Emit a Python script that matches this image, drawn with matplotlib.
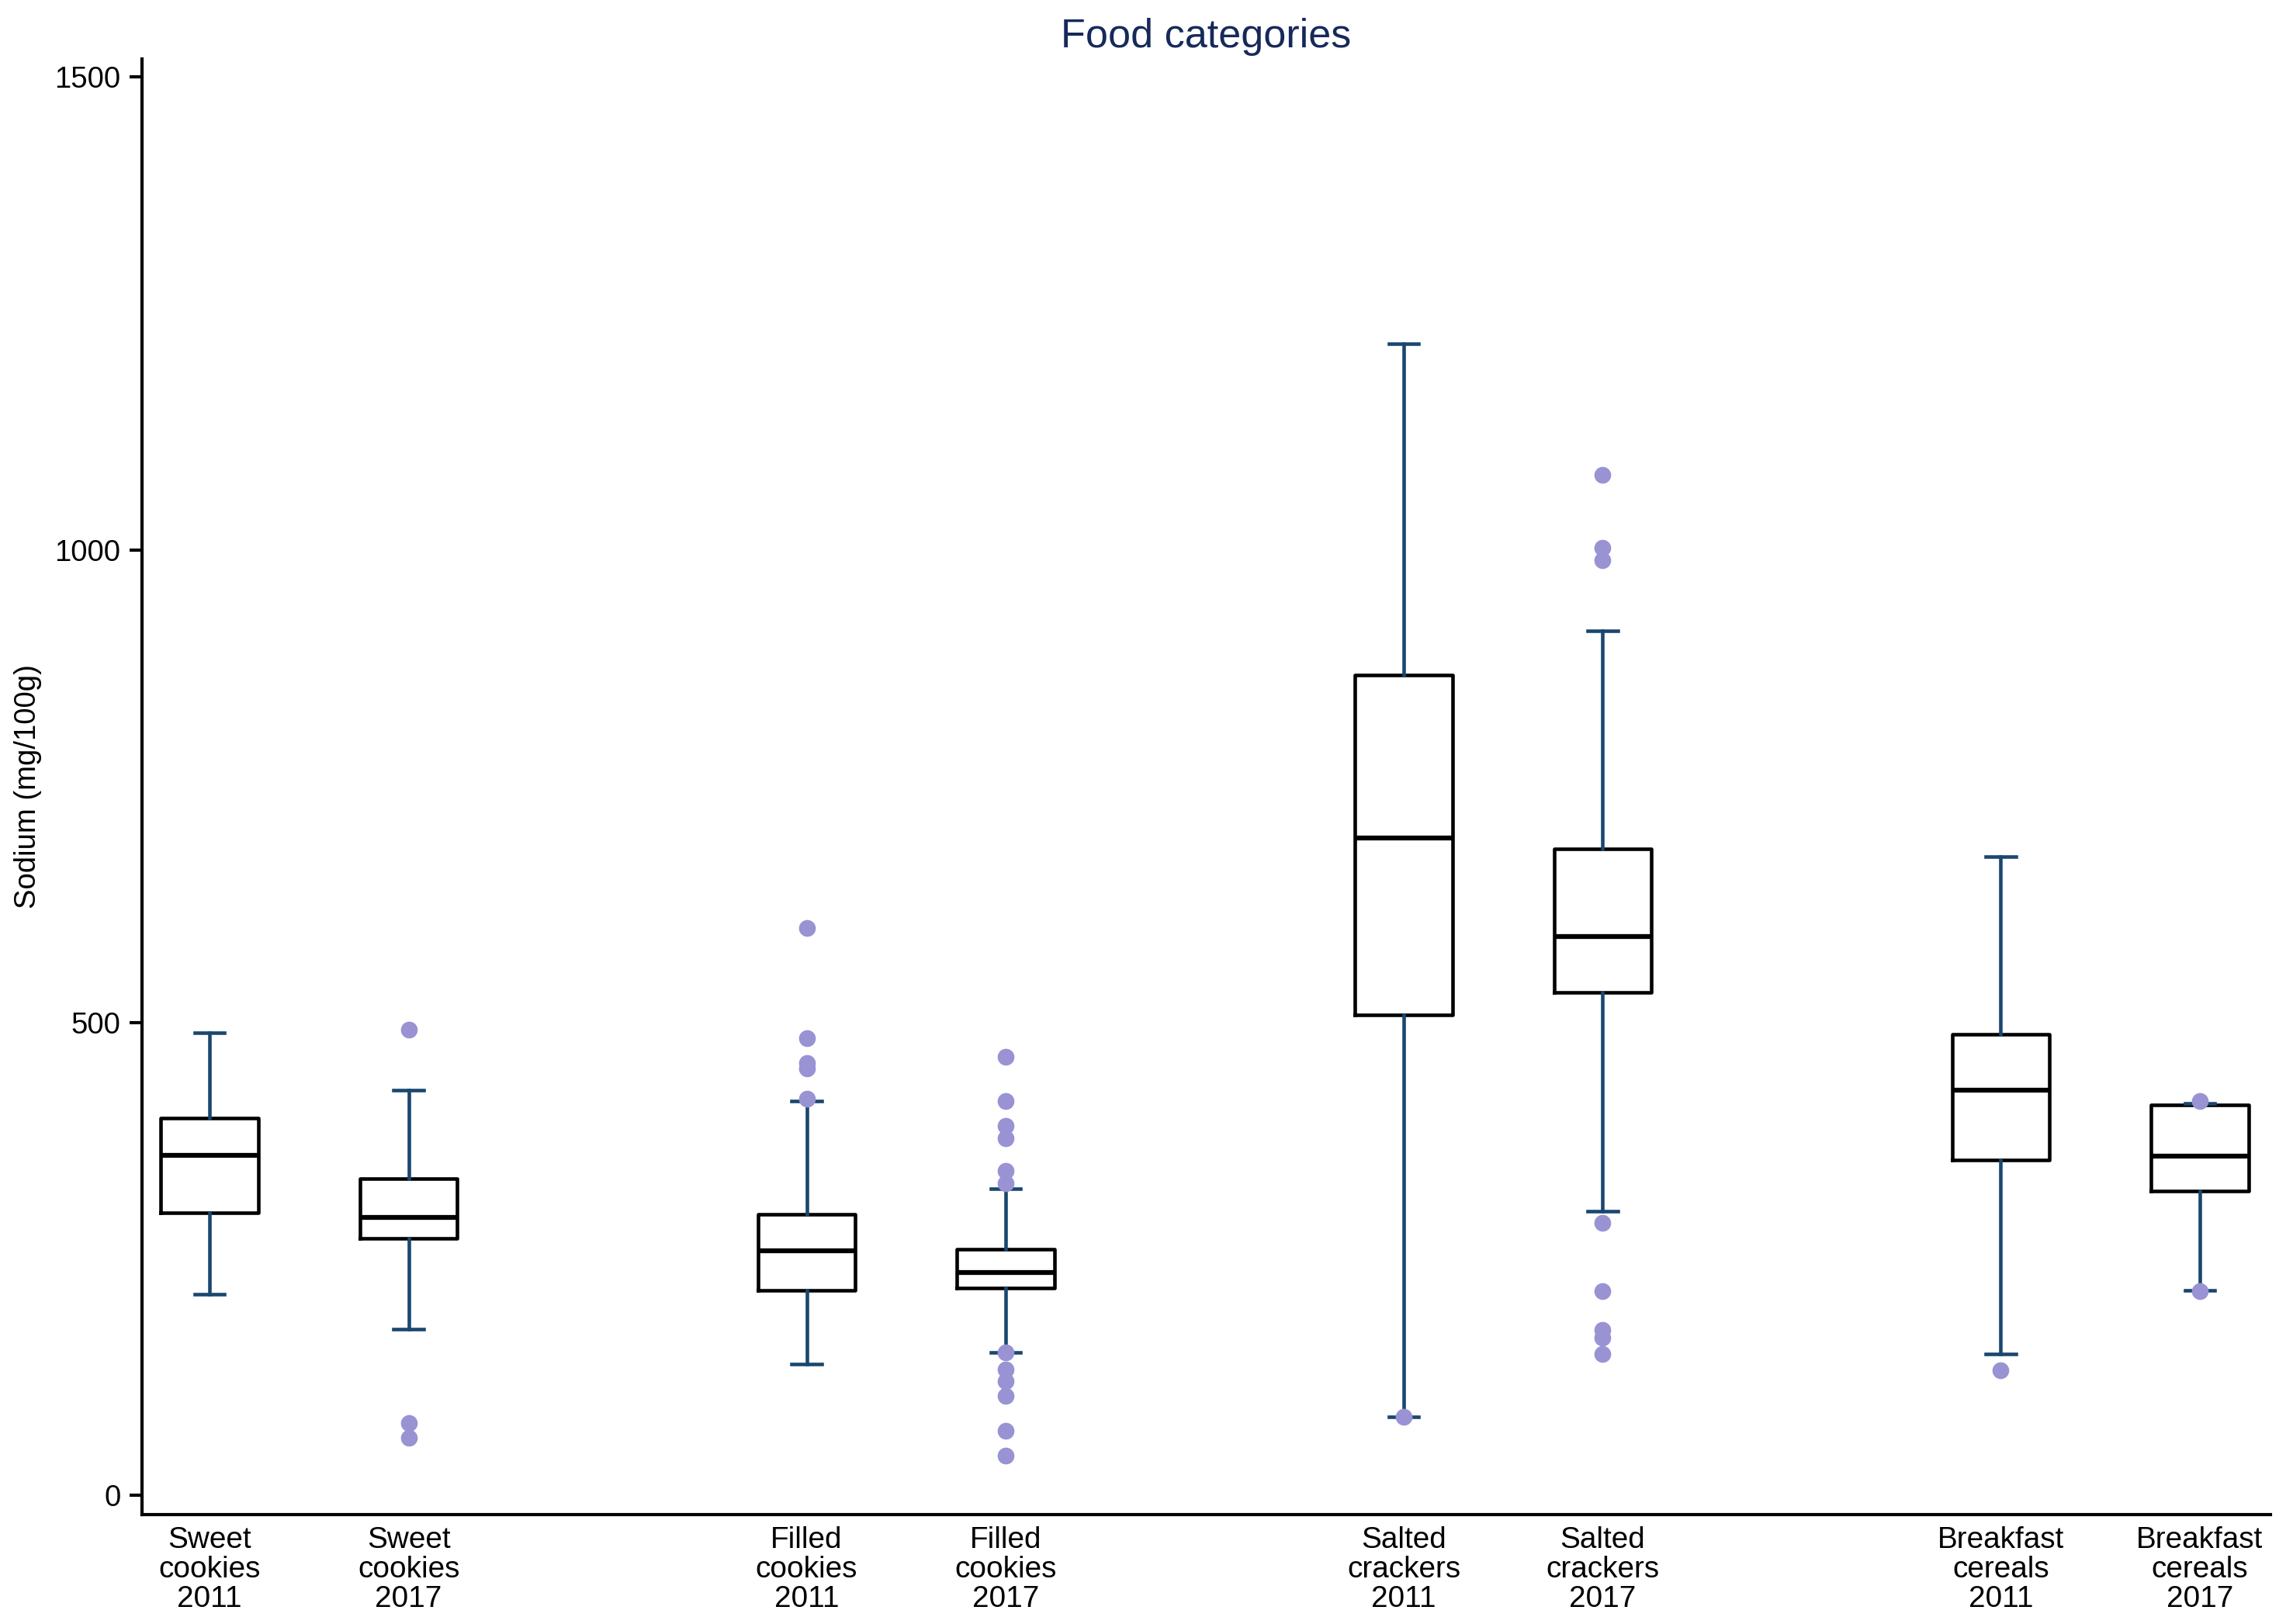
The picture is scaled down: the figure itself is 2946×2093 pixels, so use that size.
import matplotlib
matplotlib.use("Agg")
import matplotlib.pyplot as plt

plt.rcParams['font.family'] = ['Liberation Sans', 'DejaVu Sans']

# ---- data ----
labels = ["Sweet\ncookies\n2011", "Sweet\ncookies\n2017",
          "Filled\ncookies\n2011", "Filled\ncookies\n2017",
          "Salted\ncrackers\n2011", "Salted\ncrackers\n2017",
          "Breakfast\ncereals\n2011", "Breakfast\ncereals\n2017"]
positions = [1, 2, 4, 5, 7, 8, 10, 11]
whislo = [213, 176, 139, 151, 83, 301, 150, 217]
q1 = [299, 272, 217, 219, 508, 532, 355, 322]
med = [360, 294, 259, 236, 695, 591, 429, 359]
q3 = [399, 335, 297, 260, 868, 684, 488, 413]
whishi = [489, 429, 417, 324, 1218, 914, 676, 415]
fliers = [
    [],
    [493, 77, 61],
    [600, 484, 457, 452, 420],
    [464, 417, 391, 378, 343, 330, 151, 133, 121, 105, 68, 42],
    [83],
    [1079, 1002, 989, 288, 216, 175, 167, 150],
    [132],
    [417, 216],
]
yticks = [0, 500, 1000, 1500]

navy = "#1a476f"
lavender = "#9993d4"
title_col = "#16295a"

fig = plt.figure(figsize=(2946 / 300, 2093 / 300), dpi=300)
ax = fig.add_axes([0.0620, 0.0675, 0.9312, 0.8964])

stats = []
for i in range(len(labels)):
    stats.append(dict(med=med[i], q1=q1[i], q3=q3[i], whislo=whislo[i],
                      whishi=whishi[i], fliers=fliers[i], label=labels[i]))

ax.bxp(stats, positions=positions, widths=0.49, capwidths=0.15,
       showfliers=True, patch_artist=False,
       boxprops=dict(color="black", linewidth=1.1),
       medianprops=dict(color="black", linewidth=1.5, solid_capstyle='butt'),
       whiskerprops=dict(color=navy, linewidth=1.1),
       capprops=dict(color=navy, linewidth=1.1),
       flierprops=dict(marker='o', markerfacecolor=lavender,
                       markeredgecolor='none', markersize=5.2, linestyle='none'))

ax.set_xlim(0.659, 11.355)
ax.set_ylim(-20, 1519.5)
ax.set_yticks(yticks)
ax.set_yticklabels([str(v) for v in yticks])
ax.set_xticks(positions)
ax.set_xticklabels(labels, fontsize=9.3, linespacing=1.08)

ax.tick_params(axis='y', length=3.8, width=1.0, pad=2.7, labelsize=9.2,
               colors='black')
ax.tick_params(axis='x', length=0, pad=3.6)

for s in ['top', 'right']:
    ax.spines[s].set_visible(False)
for s in ['left', 'bottom']:
    ax.spines[s].set_linewidth(1.0)

ax.set_ylabel("Sodium (mg/100g)", fontsize=9.2)
ax.yaxis.set_label_coords(-0.0535, 0.5)
ax.yaxis.label.set_va('center')

ax.set_title("Food categories", fontsize=12.5, color=title_col, pad=3.6)

fig.savefig("out.png", dpi=300)
